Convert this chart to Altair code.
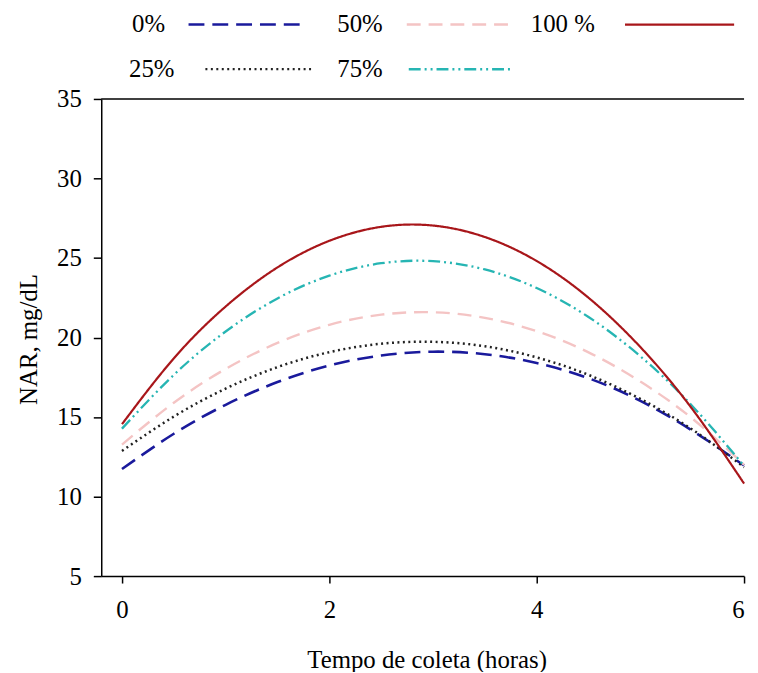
import altair as alt
import pandas as pd

# Time points (hours)
hours = [0, 0.5, 1, 1.5, 2, 2.5, 3, 3.5, 4, 4.5, 5, 5.5, 6]

# NAR (mg/dL) per level
s0 = [11.73, 13.95, 15.77, 17.20, 18.24, 18.87, 19.11, 18.95, 18.40, 17.44, 16.02, 14.15, 11.95]
s25 = [12.87, 15.03, 16.79, 18.14, 19.08, 19.61, 19.73, 19.45, 18.75, 17.65, 16.14, 14.22, 11.85]
s50 = [13.27, 15.90, 18.03, 19.66, 20.80, 21.44, 21.59, 21.24, 20.40, 19.07, 17.23, 14.91, 12.00]
s75 = [14.27, 17.65, 20.38, 22.46, 23.89, 24.67, 24.80, 24.28, 23.11, 21.29, 18.82, 15.70, 11.93]
s100 = [14.55, 18.69, 21.95, 24.41, 26.08, 26.96, 27.04, 26.32, 24.81, 22.50, 19.40, 15.51, 10.82]

series_names = ["0%", "25%", "50%", "75%", "100 %"]
series_values = [s0, s25, s50, s75, s100]

colors = ["#1a1a9c", "#222222", "#f4c4c4", "#26b5b3", "#a8161a"]
dashes = [[16, 8], [2, 3.5], [14, 8], [12, 4, 2, 4, 2, 4], [1, 0]]
widths = [2.6, 2.2, 2.6, 2.6, 2.2]

y_ticks = [5, 10, 15, 20, 25, 30, 35]
x_ticks = [0, 2, 4, 6]

rows = []
for name, vals in zip(series_names, series_values):
    for h, v in zip(hours, vals):
        rows.append({"serie": name, "hora": h, "nar": v})
df = pd.DataFrame(rows)
one = pd.DataFrame({"k": [0]})

W, H = 648, 481
FONT = "Liberation Serif"
FS = 25

lines = alt.Chart(df).mark_line(interpolate="natural").encode(
    x=alt.X("hora:Q",
            scale=alt.Scale(domain=[-0.2, 6.0], nice=False, zero=False),
            axis=alt.Axis(values=x_ticks, title="Tempo de coleta (horas)", grid=False,
                          domainColor="black", domainWidth=1.5, tickColor="black",
                          tickWidth=1.5, tickSize=7, labelFontSize=FS, labelFont=FONT,
                          labelColor="black", labelPadding=15, titleFontSize=FS,
                          titleFont=FONT, titleFontWeight="normal", titleColor="black",
                          titleX=328, titleY=84, titleBaseline="middle")),
    y=alt.Y("nar:Q",
            scale=alt.Scale(domain=[5, 35], nice=False, zero=False),
            axis=alt.Axis(values=y_ticks, title="NAR, mg/dL", grid=False,
                          domainColor="black", domainWidth=1.5, tickColor="black",
                          tickWidth=1.5, tickSize=8, labelFontSize=FS, labelFont=FONT,
                          labelColor="black", labelPadding=12, titleFontSize=FS,
                          titleFont=FONT, titleFontWeight="normal", titleColor="black",
                          titleX=-73, titleY=242, titleAngle=-90,
                          titleAlign="center", titleBaseline="middle")),
    color=alt.Color("serie:N", scale=alt.Scale(domain=series_names, range=colors), legend=None),
    strokeDash=alt.StrokeDash("serie:N", scale=alt.Scale(domain=series_names, range=dashes), legend=None),
    strokeWidth=alt.StrokeWidth("serie:N", scale=alt.Scale(domain=series_names, range=widths), legend=None),
    order=alt.Order("hora:Q"),
    detail="serie:N",
)

top_border = alt.Chart(one).mark_rule(color="black", strokeWidth=1.5).encode(
    x=alt.value(0), x2=alt.value(W), y=alt.value(0)
)

# Custom legend: label followed by its line sample (layout in pixels)
legend_layout = {
    "0%": (31, 88, 200, -75),
    "50%": (238, 308, 416, -75),
    "100 %": (433, 528, 638, -75),
    "25%": (28, 105, 212, -30),
    "75%": (238, 310, 415, -30),
}

layers = [lines, top_border]
for name, col, dash, w in zip(series_names, colors, dashes, widths):
    tx, lx1, lx2, ly = legend_layout[name]
    layers.append(
        alt.Chart(one).mark_text(align="left", baseline="middle", fontSize=FS,
                                 font=FONT, color="black").encode(
            x=alt.value(tx), y=alt.value(ly), text=alt.value(name))
    )
    layers.append(
        alt.Chart(one).mark_rule(color=col, strokeDash=dash, strokeWidth=w).encode(
            x=alt.value(lx1), x2=alt.value(lx2), y=alt.value(ly))
    )

chart = alt.layer(*layers).properties(
    width=W, height=H,
    autosize=alt.AutoSizeParams(type="none"),
    padding={"left": 94, "top": 89, "right": 6, "bottom": 94},
    background="white",
).configure_view(stroke=None)

chart.save("out.html", embed_options={"renderer": "svg", "actions": False})
